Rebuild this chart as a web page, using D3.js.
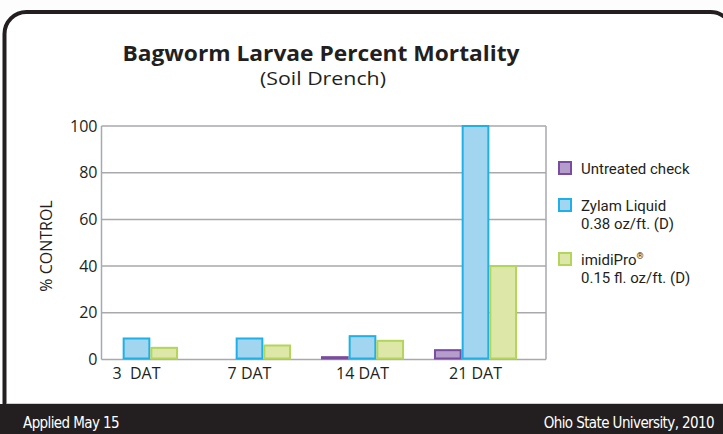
<!DOCTYPE html>
<html>
<head>
<meta charset="utf-8">
<script src="https://cdn.jsdelivr.net/npm/d3@7"></script>
<style>
  body { margin: 0; background: #fff; }
  svg { display: block; font-family: "Open Sans", "Noto Sans", sans-serif; }
</style>
</head>
<body>
<svg id="chart" width="723" height="434"></svg>
<script>
// chart data
const categories = ["3  DAT", "7 DAT", "14 DAT", "21 DAT"];
const seriesNames = ["Untreated check", "Zylam Liquid", "imidiPro"];
const untreated = [0, 0, 1, 4];
const zylam = [9, 9, 10, 100];
const imidipro = [5, 6, 8, 40];
const yTicks = [0, 20, 40, 60, 80, 100];

const fills = ["#b49ccb", "#a1d5f0", "#dde7a7"];
const strokes = ["#7a4c9f", "#1eb1e7", "#b3d55a"];

const svg = d3.select("svg#chart");
const width = 723, height = 434;

// frame + footer band
svg.append("rect")
  .attr("x", 0).attr("y", 0).attr("width", width).attr("height", height)
  .attr("fill", "#fdfdfd");
svg.append("rect")
  .attr("x", 4.5).attr("y", 12).attr("width", 728).attr("height", 440)
  .attr("rx", 22).attr("ry", 22)
  .attr("fill", "#fff").attr("stroke", "#231f20").attr("stroke-width", 4);
svg.append("rect")
  .attr("x", 0).attr("y", 404).attr("width", width).attr("height", 30)
  .attr("fill", "#231f20");
svg.append("line")
  .attr("x1", 7).attr("x2", width).attr("y1", 403.5).attr("y2", 403.5)
  .attr("stroke", "#cfcfcf").attr("stroke-width", 1);

// titles
svg.append("text")
  .attr("x", 321).attr("y", 61)
  .attr("text-anchor", "middle")
  .attr("font-size", 22).attr("font-weight", "bold").attr("fill", "#231f20")
  .attr("textLength", 397).attr("lengthAdjust", "spacingAndGlyphs")
  .text("Bagworm Larvae Percent Mortality");
svg.append("text")
  .attr("x", 323).attr("y", 85)
  .attr("text-anchor", "middle")
  .attr("font-size", 19).attr("fill", "#231f20")
  .attr("textLength", 126).attr("lengthAdjust", "spacingAndGlyphs")
  .text("(Soil Drench)");

// plot area
const plot = { left: 101.5, right: 546, top: 126, bottom: 359.5 };

const yScale = d3.scaleLinear()
  .domain([0, 100])
  .range([plot.bottom, plot.top]);

const xScale = d3.scaleBand()
  .domain(categories)
  .range([80, 532])
  .paddingInner(0.265)
  .paddingOuter(0.1325);

const xSub = d3.scaleBand()
  .domain(seriesNames)
  .range([0, xScale.bandwidth()]);

// gridlines
svg.append("g")
  .selectAll("line")
  .data(yTicks)
  .join("line")
  .attr("x1", plot.left).attr("x2", plot.right)
  .attr("y1", d => yScale(d)).attr("y2", d => yScale(d))
  .attr("stroke", "#a7a9ac").attr("stroke-width", 1.5);

// plot sides
svg.append("g")
  .selectAll("line")
  .data([plot.left, plot.right])
  .join("line")
  .attr("x1", d => d).attr("x2", d => d)
  .attr("y1", plot.top).attr("y2", plot.bottom)
  .attr("stroke", "#a7a9ac").attr("stroke-width", 1.5);

// y axis labels
const yAxis = svg.append("g")
  .attr("transform", `translate(${plot.left - 4},0)`)
  .call(d3.axisLeft(yScale).tickValues(yTicks).tickSize(0).tickPadding(0));
yAxis.select(".domain").remove();
yAxis.selectAll("text")
  .attr("font-size", 16).attr("fill", "#231f20")
  .attr("font-family", "Open Sans, sans-serif");

svg.append("text")
  .attr("transform", "translate(52,246) rotate(-90)")
  .attr("text-anchor", "middle")
  .attr("font-size", 16).attr("fill", "#231f20")
  .text("% CONTROL");

// x axis labels
const xAxis = svg.append("g")
  .attr("transform", `translate(0,${plot.bottom})`)
  .call(d3.axisBottom(xScale).tickSize(0).tickPadding(8));
xAxis.select(".domain").remove();
xAxis.selectAll("text")
  .attr("font-size", 16).attr("fill", "#231f20")
  .attr("font-family", "Open Sans, sans-serif")
  .style("white-space", "pre");

// bars
const series = [untreated, zylam, imidipro];
const groups = svg.append("g")
  .selectAll("g")
  .data(categories)
  .join("g")
  .attr("transform", d => `translate(${xScale(d)},0)`);

groups.selectAll("rect")
  .data((c, i) => series.map((s, k) => ({ name: seriesNames[k], k: k, value: s[i] })))
  .join("rect")
  .filter(d => d.value > 0)
  .attr("x", d => xSub(d.name) + 1)
  .attr("y", d => yScale(d.value))
  .attr("width", xSub.bandwidth() - 2)
  .attr("height", d => yScale(0) - yScale(d.value) - 1)
  .attr("fill", d => fills[d.k])
  .attr("stroke", d => strokes[d.k])
  .attr("stroke-width", 2);

// legend
const legendRows = [
  { lines: ["Untreated check"], y: 161 },
  { lines: ["Zylam Liquid", "0.38 oz/ft. (D)"], y: 198 },
  { lines: ["imidiPro", "0.15 fl. oz/ft. (D)"], y: 252 }
];
const legend = svg.append("g");
legendRows.forEach((row, k) => {
  legend.append("rect")
    .attr("x", 559).attr("y", row.y + 1)
    .attr("width", 12).attr("height", 12)
    .attr("fill", fills[k]).attr("stroke", strokes[k]).attr("stroke-width", 2);
  row.lines.forEach((line, j) => {
    const t = legend.append("text")
      .attr("x", 581).attr("y", row.y + 13 + j * 18)
      .attr("font-size", 15).attr("fill", "#231f20")
      .attr("font-family", "Roboto, sans-serif")
      .text(line);
    if (k === 2 && j === 0) {
      t.append("tspan").attr("font-size", 9).attr("dy", -6).text("®");
    }
  });
});

// footer
svg.append("text")
  .attr("x", 23).attr("y", 428)
  .attr("font-size", 15).attr("fill", "#fff")
  .attr("font-family", "DejaVu Sans Condensed, sans-serif")
  .attr("letter-spacing", -0.6)
  .text("Applied May 15");
svg.append("text")
  .attr("x", 714).attr("y", 428)
  .attr("text-anchor", "end")
  .attr("font-size", 15).attr("fill", "#fff")
  .attr("font-family", "DejaVu Sans Condensed, sans-serif")
  .attr("letter-spacing", -0.6)
  .text("Ohio State University, 2010");
</script>
</body>
</html>
